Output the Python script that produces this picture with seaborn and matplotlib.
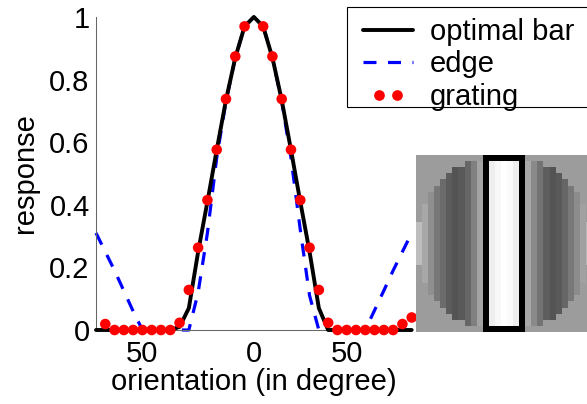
import numpy as np
import matplotlib
matplotlib.use('Agg')
import matplotlib.pyplot as plt
import seaborn as sns
from matplotlib.lines import Line2D
from matplotlib.legend_handler import HandlerLine2D
from matplotlib.patches import Rectangle

# orientation (deg) for the bar and edge curves
angles = [-85, -80, -75, -70, -65, -60, -55, -50, -45, -40, -35, -30, -25, -20, -15, -10, -5,
          0, 5, 10, 15, 20, 25, 30, 35, 40, 45, 50, 55, 60, 65, 70, 75, 80, 85]
bar_resp = [0, 0, 0, 0, 0, 0, 0, 0, 0, 0.01, 0.07, 0.25, 0.41, 0.575, 0.735, 0.87, 0.97,
            1.0, 0.97, 0.87, 0.735, 0.575, 0.41, 0.25, 0.07, 0.0, 0, 0, 0, 0, 0, 0, 0, 0, 0]
edge_resp = [0.31, 0.25, 0.19, 0.125, 0.06, 0.0, 0, 0, 0, 0, 0.0, 0.12, 0.31, 0.55, 0.73, 0.87, 0.97,
             1.0, 0.97, 0.87, 0.73, 0.55, 0.32, 0.11, 0.0, 0, 0, 0, 0, 0.0, 0.063, 0.126, 0.19, 0.25, 0.31]

# grating samples
grating_angles = [-80, -75, -70, -65, -60, -55, -50, -45, -40, -35, -30, -25, -20, -15, -10, -5,
                  5, 10, 15, 20, 25, 30, 35, 40, 45, 50, 55, 60, 65, 70, 75, 80, 85]
grating_resp = [0.019, 0, 0, 0, 0, 0, 0, 0, 0.023, 0.128, 0.263, 0.415, 0.576, 0.738, 0.874, 0.97,
                0.97, 0.874, 0.738, 0.576, 0.415, 0.263, 0.128, 0.023, 0, 0, 0, 0, 0, 0, 0, 0.019, 0.04]

series_labels = ['optimal bar', 'edge', 'grating']
xtick_pos = [-60, 0, 50]
xtick_text = ['50', '0', '50']
ytick_pos = [0, 0.2, 0.4, 0.6, 0.8, 1]
ytick_text = ['0', '0.2', '0.4', '0.6', '0.8', '1']

# stimulus picture: grey level of each column, half height of the aperture per column
stim_bg = 0.61
stim_cols = [0.74, 0.66, 0.56, 0.47, 0.42, 0.36, 0.33, 0.35, 0.40, 0.50, 0.64, 0.85, 0.93, 0.97,
             1.0, 0.98, 0.93, 0.85, 0.66, 0.54, 0.45, 0.37, 0.33, 0.35, 0.40, 0.47, 0.55, 0.63, 0.72]
stim_halfh = [3, 6, 8, 9, 10, 11, 12, 12, 13, 13, 13, 14, 14, 14, 14, 14, 14, 14,
              13, 13, 13, 12, 12, 11, 10, 9, 8, 6, 3]
bar_left, bar_right = 11, 17

sns.set_style('white')
plt.rcParams['font.family'] = ['Liberation Sans', 'DejaVu Sans']
plt.rcParams['text.color'] = 'black'
plt.rcParams['axes.labelcolor'] = 'black'
FS = 21

W, H = 587, 404
fig = plt.figure(figsize=(W / 100, H / 100), dpi=100)
ax = fig.add_axes([96 / W, (H - 330) / H, (411.7 - 96) / W, (330 - 17) / H])

sns.lineplot(x=angles, y=edge_resp, ax=ax, color='#0000ff', lw=2.3,
             linestyle=(0, (4.07, 3.6)), zorder=2, clip_on=False, sort=False)
sns.lineplot(x=angles, y=bar_resp, ax=ax, color='black', lw=2.8, zorder=3,
             clip_on=False, sort=False)
sns.scatterplot(x=grating_angles, y=grating_resp, ax=ax, color='#ff0000', s=58,
                edgecolor='none', linewidth=0, zorder=4, clip_on=False)

ax.set_xlim(-85, 85)
ax.set_ylim(0, 1)
ax.set_xticks(xtick_pos)
ax.set_xticklabels(xtick_text, fontsize=FS)
ax.set_yticks(ytick_pos)
ax.set_yticklabels(ytick_text, fontsize=FS)
ax.tick_params(axis='both', direction='in', length=3, width=0.7, color='#555555',
               labelcolor='black')
ax.tick_params(axis='x', pad=7)
ax.tick_params(axis='y', pad=4.5)
for side in ['top', 'right']:
    ax.spines[side].set_visible(False)
for side in ['left', 'bottom']:
    ax.spines[side].set_color('#666666')
    ax.spines[side].set_linewidth(0.75)
ax.set_facecolor('none')

ax.set_xlabel('orientation (in degree)', fontsize=FS)
ax.set_ylabel('response', fontsize=FS)
ax.xaxis.set_label_coords(0.5, -0.122)
ax.yaxis.set_label_coords(-0.18, 0.5)

# inset stimulus
img = np.full((len(stim_cols), len(stim_cols)), stim_bg)
mid = len(stim_cols) // 2
for c, (g, h) in enumerate(zip(stim_cols, stim_halfh)):
    img[mid - h:mid + h + 1, c] = g
img[:, bar_left] = 0
img[:, bar_right] = 0
img[0, bar_left:bar_right + 1] = 0
img[-1, bar_left:bar_right + 1] = 0

ax_in = fig.add_axes([416 / W, (H - 332) / H, 176 / W, 177 / H])
ax_in.imshow(img, cmap='gray', vmin=0, vmax=1, interpolation='nearest', aspect='auto')
ax_in.axis('off')

# legend with a manual frame
frame = Rectangle((347 / W, (H - 107) / H), (596 - 347) / W, 100 / H, transform=fig.transFigure,
                  facecolor='white', edgecolor='black', lw=0.8, zorder=4)
fig.add_artist(frame)
h_bar = Line2D([], [], color='black', lw=2.8)
h_edge = Line2D([], [], color='#0000ff', lw=2.3, linestyle=(0, (4.07, 3.6)))
h_grat = Line2D([], [], color='#ff0000', marker='o', linestyle='none', markersize=7.7,
                markeredgewidth=0)
leg = fig.legend([h_bar, h_edge, h_grat], series_labels, loc='upper left',
                 bbox_to_anchor=(363 / W, 1 - 18 / H), frameon=False, borderpad=0,
                 borderaxespad=0, handlelength=1.71, handletextpad=0.58, labelspacing=0.15,
                 fontsize=FS, numpoints=1,
                 handler_map={h_grat: HandlerLine2D(numpoints=2, marker_pad=0.55)})
leg.set_zorder(5)

fig.savefig('out.png', dpi=100)
